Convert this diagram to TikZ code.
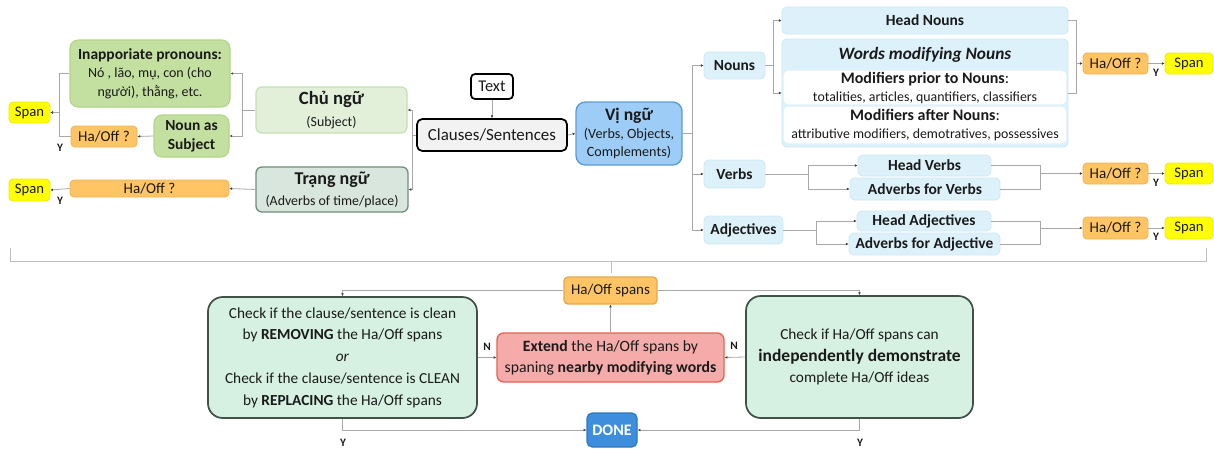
\documentclass[tikz,border=0pt]{standalone}
\usepackage{fontspec}
\setmainfont{Carlito}
\usetikzlibrary{arrows.meta}
\definecolor{cgray}{HTML}{A8A8A8}
\definecolor{spany}{HTML}{FFFF00}
\definecolor{hao}{HTML}{FFC463}
\definecolor{haobd}{HTML}{F3B050}
\definecolor{prong}{HTML}{C4E0A0}
\definecolor{prongbd}{HTML}{B2D48A}
\definecolor{chug}{HTML}{E2F0D9}
\definecolor{chugbd}{HTML}{C5E0B4}
\definecolor{trang}{HTML}{D8E6DE}
\definecolor{trangbd}{HTML}{6E8E7C}
\definecolor{vib}{HTML}{9DCDF7}
\definecolor{vibbd}{HTML}{5B9BD5}
\definecolor{lblue}{HTML}{DDF1FB}
\definecolor{lbluebd}{HTML}{CDE6F4}
\definecolor{mint}{HTML}{D6F1E2}
\definecolor{mintbd}{HTML}{3F5248}
\definecolor{extr}{HTML}{F5ABAA}
\definecolor{extrbd}{HTML}{E8614F}
\definecolor{doneb}{HTML}{3D8FDD}
\definecolor{donebd}{HTML}{2F78C0}
\definecolor{clsg}{HTML}{F2F2F2}
\definecolor{txt}{HTML}{1A1A1A}
\newcommand\bx[7]{\node[#2,minimum width={(#5-#3)*0.75pt},minimum height={(#6-#4)*0.75pt}] (#1) at ({(#3+#5)/2},{(#4+#6)/2}) {#7};}
\newcommand\fsz[2]{\fontsize{#1}{#2}\selectfont}
\tikzset{
  base/.style={rounded corners=3pt,inner sep=0pt,align=center,line width=0.6pt,text=txt},
  spanbox/.style={base,fill=spany,draw=spany!92!black,font=\fsz{11}{13}},
  haobox/.style={base,fill=hao,draw=haobd,font=\fsz{11.3}{13}},
  lbbox/.style={base,rounded corners=3.5pt,fill=lblue,draw=lbluebd,font=\fsz{11.6}{13}\bfseries},
  whitebox/.style={base,rounded corners=3.5pt,fill=white,draw=white,font=\fsz{10.4}{13.5}},
  pronbox/.style={base,rounded corners=6pt,fill=prong,draw=prongbd,line width=0.8pt,font=\fsz{10.5}{14}},
  chubox/.style={base,rounded corners=4.5pt,fill=chug,draw=chugbd,line width=1pt,font=\fsz{10.4}{16.5}},
  trangbox/.style={base,rounded corners=4.5pt,fill=trang,draw=trangbd,line width=1pt,font=\fsz{10.4}{16}},
  textbox/.style={base,rounded corners=3pt,fill=white,draw=black,line width=1.3pt,font=\fsz{12.3}{14}},
  clsbox/.style={base,rounded corners=4pt,fill=clsg,draw=black,line width=1.3pt,font=\fsz{12.7}{15}},
  vibox/.style={base,rounded corners=7pt,fill=vib,draw=vibbd,line width=1pt,font=\fsz{10.6}{13.5}},
  hsbox/.style={base,rounded corners=3pt,fill=hao,draw=haobd!95!black,line width=1pt,font=\fsz{11.2}{13}},
  mintbox/.style={base,rounded corners=11pt,fill=mint,draw=mintbd,line width=1.3pt,font=\fsz{11.5}{16.3}},
  extbox/.style={base,rounded corners=5pt,fill=extr,draw=extrbd,line width=1pt,font=\fsz{11.8}{15.5}},
  donebox/.style={base,rounded corners=4pt,fill=doneb,draw=donebd,line width=1pt,text=white,font=\fsz{12}{14}\bfseries},
  con/.style={draw=cgray,line width=0.6pt},
  arr/.style={con,-{Latex[length=2pt,width=2pt,color=black!75]}},
  lab/.style={inner sep=0pt,text=txt,font=\fsz{8.5}{10}\bfseries},
}
\begin{document}
\begin{tikzpicture}[x=0.75pt,y=-0.75pt]
\useasboundingbox (0,0) rectangle (1214,450);
% left
\bx{span1}{spanbox}{9}{102}{50}{123}{Span}
\bx{pron}{pronbox}{70}{40}{230}{107}{{\fsz{11.6}{14}\bfseries Inapporiate pronouns:}\\Nó , lão, mụ, con (cho\\người), thằng, etc.}
\bx{nas}{pronbox}{154}{115}{229}{157}{{\fsz{11.6}{14.5}\bfseries Noun as}\\{\fsz{11.6}{14.5}\bfseries Subject}}
\bx{ha1}{haobox}{71}{126}{137}{147}{Ha/Off ?}
\bx{chu}{chubox}{256}{87}{407}{133}{{\fsz{14}{16}\bfseries Chủ ngữ}\\(Subject)}
\bx{trang}{trangbox}{256}{167}{408}{212}{{\fsz{13.5}{16}\bfseries Trạng ngữ}\\(Adverbs of time/place)}
\bx{span2}{spanbox}{9}{179}{50}{201}{Span}
\bx{ha2}{haobox}{70}{180}{229}{197}{Ha/Off ?}
% center
\bx{text}{textbox}{471}{74}{513}{99}{Text}
\bx{cls}{clsbox}{417}{119}{567}{151}{Clauses/Sentences}
\bx{vi}{vibox}{576}{102}{682}{165}{{\fsz{13.2}{15.5}\bfseries Vị ngữ}\\(Verbs, Objects,\\Complements)}
% right
\bx{nouns}{lbbox}{704}{52}{765}{79}{Nouns}
\bx{hn}{lbbox}{782}{7}{1068}{34}{Head Nouns}
\bx{wm}{lbbox}{782}{39}{1068}{147}{}
\node[inner sep=0pt,text=txt,font=\fsz{13}{15}\bfseries\itshape] (wmt) at (925,55) {Words modifying Nouns};
\bx{mp}{whitebox}{784}{71}{1066}{104}{{\fsz{12}{13.5}\bfseries Modifiers prior to Nouns}{\fsz{12}{13.5}:}\\totalities, articles, quantifiers, classifiers}
\bx{ma}{whitebox}{784}{107}{1066}{143}{{\fsz{12}{13.5}\bfseries Modifiers after Nouns}{\fsz{12}{13.5}:}\\attributive modifiers, demotratives, possessives}
\bx{hr1}{haobox}{1083}{53}{1148}{74}{Ha/Off ?}
\bx{sr1}{spanbox}{1165}{53}{1213}{74}{Span}
\bx{verbs}{lbbox}{704}{160}{765}{188}{Verbs}
\bx{hv}{lbbox}{858}{155}{991}{176}{Head Verbs}
\bx{av}{lbbox}{850}{178}{1000}{200}{Adverbs for Verbs}
\bx{hr2}{haobox}{1083}{163}{1148}{184}{Ha/Off ?}
\bx{sr2}{spanbox}{1165}{163}{1213}{184}{Span}
\bx{adj}{lbbox}{704}{216}{783}{244}{Adjectives}
\bx{hadj}{lbbox}{857}{211}{991}{231}{Head Adjectives}
\bx{aa}{lbbox}{849}{233}{1000}{255}{Adverbs for Adjective}
\bx{hr3}{haobox}{1083}{217}{1148}{239}{Ha/Off ?}
\bx{sr3}{spanbox}{1165}{217}{1213}{239}{Span}
% bottom
\bx{hs}{hsbox}{564}{277}{657}{304}{Ha/Off spans}
\bx{lbox}{mintbox}{208}{297}{477}{418}{Check if the clause/sentence is clean\\by \textbf{REMOVING} the Ha/Off spans\\\textit{or}\\Check if the clause/sentence is CLEAN\\by \textbf{REPLACING} the Ha/Off spans}
\bx{ext}{extbox}{497}{333}{724}{382}{\textbf{Extend} the Ha/Off spans by\\spaning \textbf{nearby modifying words}}
\bx{rbox}{mintbox}{746}{296}{973}{418}{Check if Ha/Off spans can\\{\fsz{13.1}{16.3}\bfseries independently demonstrate}\\complete Ha/Off ideas}
\bx{done}{donebox}{587}{413}{637}{447}{DONE}
% brace
\coordinate (b1) at (10,248); \coordinate (b2) at (10,261);
\coordinate (b3) at (1206,261); \coordinate (b4) at (1206,248);
\coordinate (bm) at (611,261); \coordinate (bt) at (611,273);
\draw[con,draw=cgray!75] (b1) -- (b2) -- (b3) -- (b4);
\draw[con,draw=cgray!75] (bm) -- (bt);
% left connectors
\draw[arr] (text.south) -- (cls.north);
\draw[arr] (cls.east) -- (vi.west);
\draw[arr] (cls.west) -- ++(-4,0) |- (chu.east);
\draw[arr] (cls.west) -- ++(-4,0) |- (trang.east);
\draw[arr] (chu.west) -- ++(-13,0) |- (pron.east);
\draw[arr] (chu.west) -- ++(-13,0) |- (nas.east);
\draw[arr] (nas.west) -- (ha1.east);
\draw[arr] (pron.west) -- ++(-10,0) |- (span1.east);
\draw[arr] (ha1.west) -- ++(-11,0) |- (span1.east);
\node[lab] at (60,148) {Y};
\draw[arr] (trang.west) -- (ha2.east);
\draw[arr] (ha2.west) -- (span2.east);
\node[lab] at (60,201) {Y};
% right connectors
\draw[arr] (vi.east) -- ++(10,0) |- (nouns.west);
\draw[arr] (vi.east) -- ++(10,0) |- (verbs.west);
\draw[arr] (vi.east) -- ++(10,0) |- (adj.west);
\draw[arr] (nouns.east) -- ++(8,0) |- (hn.west);
\draw[arr] (nouns.east) -- ++(8,0) |- (wm.west);
\coordinate (m1) at (1076,63.5);
\draw[con] (hn.east) -| (m1);
\draw[con] (wm.east) -| (m1);
\draw[arr] (m1) -- (hr1.west);
\draw[arr] (hr1.east) -- (sr1.west);
\node[lab] at (1156,73) {Y};
\draw[arr] (verbs.east) -- ++(43,0) |- (hv.west);
\draw[arr] (verbs.east) -- ++(43,0) |- (av.west);
\coordinate (m2) at (1040,173.5);
\draw[con] (hv.east) -| (m2);
\draw[con] (av.east) -| (m2);
\draw[arr] (m2) -- (hr2.west);
\draw[arr] (hr2.east) -- (sr2.west);
\node[lab] at (1156,183) {Y};
\draw[arr] (adj.east) -- ++(33,0) |- (hadj.west);
\draw[arr] (adj.east) -- ++(33,0) |- (aa.west);
\coordinate (m3) at (1040,228);
\draw[con] (hadj.east) -| (m3);
\draw[con] (aa.east) -| (m3);
\draw[arr] (m3) -- (hr3.west);
\draw[arr] (hr3.east) -- (sr3.west);
\node[lab] at (1156,237) {Y};
% bottom connectors
\draw[arr] (hs.west) -| (lbox.north);
\draw[arr] (hs.east) -| (rbox.north);
\draw[arr] (ext.north) -- (hs.south);
\draw[arr] (lbox.east) -- (ext.west);
\node[lab] at (487,347) {N};
\draw[arr] (rbox.west) -- (ext.east);
\node[lab] at (734,346) {N};
\draw[arr] (lbox.south) |- (done.west);
\draw[arr] (rbox.south) |- (done.east);
\node[lab] at (343,443) {Y};
\node[lab] at (860,443) {Y};
\end{tikzpicture}
\end{document}
